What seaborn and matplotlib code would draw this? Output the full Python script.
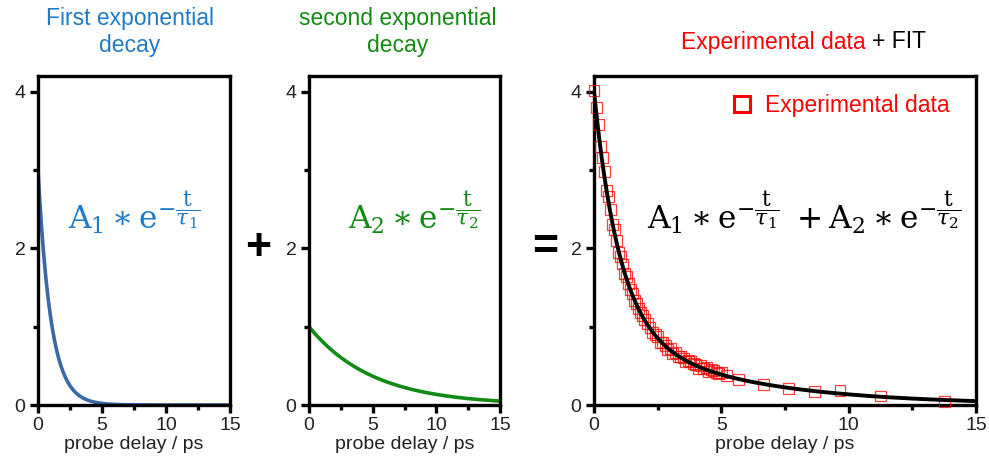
import numpy as np
import pandas as pd
import matplotlib
matplotlib.use("Agg")
import matplotlib.pyplot as plt
from matplotlib.lines import Line2D
from matplotlib.ticker import MultipleLocator
import seaborn as sns

# Bi-exponential model parameters
A1, TAU1 = 3.0, 1.0
A2, TAU2 = 1.0, 5.0

# Measured transient (probe delay in ps, signal)
t_exp = [0.00, 0.08, 0.16, 0.24, 0.32, 0.40, 0.48, 0.56, 0.64, 0.72,
         0.80, 0.88, 0.96, 1.04, 1.12, 1.20, 1.28, 1.36, 1.44, 1.52,
         1.60, 1.68, 1.76, 1.84, 1.92, 2.00, 2.10, 2.20, 2.30, 2.40,
         2.50, 2.60, 2.70, 2.80, 2.90, 3.00, 3.10, 3.20, 3.30, 3.40,
         3.50, 3.60, 3.70, 3.80, 3.90, 4.00, 4.10, 4.20, 4.30, 4.40,
         4.50, 4.60, 4.70, 4.80, 4.90, 5.00, 5.21, 5.67, 6.65, 7.64,
         8.66, 9.66, 11.24, 13.77]
y_exp = [4.02, 3.80, 3.58, 3.30, 3.16, 2.98, 2.74, 2.66, 2.49, 2.30,
         2.24, 2.10, 1.95, 1.90, 1.80, 1.68, 1.64, 1.55, 1.47, 1.42,
         1.33, 1.30, 1.23, 1.18, 1.14, 1.09, 1.04, 0.99, 0.92, 0.90,
         0.87, 0.80, 0.80, 0.76, 0.71, 0.72, 0.66, 0.67, 0.62, 0.62,
         0.60, 0.56, 0.57, 0.55, 0.53, 0.52, 0.47, 0.50, 0.46, 0.48,
         0.43, 0.45, 0.44, 0.42, 0.40, 0.41, 0.38, 0.32, 0.26, 0.21,
         0.17, 0.18, 0.115, 0.04]

x_ticks = [0, 5, 10, 15]
y_ticks = [0, 2, 4]

BLUE_LINE = "#3A68A8"
BLUE_TEXT = "#1F7BC8"
GREEN = "#138A13"
RED = "#FF0000"

sns.set_theme(style="white")
plt.rcParams["font.family"] = ["Liberation Sans", "DejaVu Sans"]
plt.rcParams["mathtext.fontset"] = "dejavuserif"

t = np.linspace(0, 15, 600)
comp1 = pd.DataFrame({"t": t, "y": A1 * np.exp(-t / TAU1)})
comp2 = pd.DataFrame({"t": t, "y": A2 * np.exp(-t / TAU2)})
fit = pd.DataFrame({"t": t, "y": comp1["y"] + comp2["y"]})
exp_df = pd.DataFrame({"t": t_exp, "y": y_exp})

W, H = 989, 470
fig = plt.figure(figsize=(W / 100, H / 100), dpi=100)
fig.patch.set_facecolor("white")


def px_axes(left, right, top=76, bottom=405):
    return fig.add_axes([left / W, 1 - bottom / H, (right - left) / W, (bottom - top) / H])


ax1 = px_axes(38, 230)
ax2 = px_axes(309, 500)
ax3 = px_axes(594, 976)

sns.lineplot(data=comp1, x="t", y="y", ax=ax1, color=BLUE_LINE, linewidth=2.6)
sns.lineplot(data=comp2, x="t", y="y", ax=ax2, color=GREEN, linewidth=2.6)
sns.scatterplot(data=exp_df, x="t", y="y", ax=ax3, marker="s", s=62,
                facecolor="none", edgecolor=RED, linewidth=0.9, alpha=0.75,
                zorder=3, clip_on=False)
sns.lineplot(data=fit, x="t", y="y", ax=ax3, color="black", linewidth=2.8, zorder=4)

for ax in (ax1, ax2, ax3):
    ax.set_xlim(0, 15)
    ax.set_ylim(0, 4.2)
    ax.set_xticks(x_ticks)
    ax.set_yticks(y_ticks)
    ax.xaxis.set_minor_locator(MultipleLocator(2.5))
    ax.yaxis.set_minor_locator(MultipleLocator(1))
    for sp in ax.spines.values():
        sp.set_visible(True)
        sp.set_color("black")
        sp.set_linewidth(2.4)
    ax.tick_params(which="major", direction="out", length=6, width=2.4,
                   labelsize=14, color="black", labelcolor="#222222", pad=3,
                   bottom=True, left=True)
    ax.tick_params(which="minor", direction="out", length=3.5, width=2.4,
                   color="black", bottom=True, left=True)
    ax.set_xlabel("probe delay / ps", fontsize=14, color="#222222", labelpad=1)
    ax.set_ylabel("")
    ax.set_facecolor("white")

# Equations
eq1 = r"$\mathrm{A}_1 \ast \mathrm{e}^{-\dfrac{\mathrm{t}}{\tau_1}}$"
eq2 = r"$\mathrm{A}_2 \ast \mathrm{e}^{-\dfrac{\mathrm{t}}{\tau_2}}$"
eq3 = (r"$\mathrm{A}_1 \ast \mathrm{e}^{-\dfrac{\mathrm{t}}{\tau_1}}"
       r"\ + \mathrm{A}_2 \ast \mathrm{e}^{-\dfrac{\mathrm{t}}{\tau_2}}$")
ax1.text(0.50, 0.535, eq1, transform=ax1.transAxes, ha="center", va="baseline",
         fontsize=22.5, color=BLUE_TEXT)
ax2.text(0.55, 0.535, eq2, transform=ax2.transAxes, ha="center", va="baseline",
         fontsize=22.5, color=GREEN)
ax3.text(0.55, 0.535, eq3, transform=ax3.transAxes, ha="center", va="baseline",
         fontsize=22.5, color="black")

# Legend for the measured points
handle = Line2D([], [], marker="s", linestyle="none", markerfacecolor="none",
                markeredgecolor=RED, markersize=11, markeredgewidth=2.2)
leg = ax3.legend([handle], ["Experimental data"], loc="upper right",
                 frameon=False, fontsize=16.5, handletextpad=0.5,
                 borderaxespad=0.6, handlelength=1.0,
                 bbox_to_anchor=(0.99, 1.015))
for txt in leg.get_texts():
    txt.set_color(RED)

# Titles
fig.text(130 / W, 1 - 32 / H, "First exponential\ndecay", ha="center", va="center",
         fontsize=16.5, color=BLUE_TEXT, linespacing=1.27)
fig.text(398 / W, 1 - 32 / H, "second exponential\ndecay", ha="center", va="center",
         fontsize=16.5, color=GREEN, linespacing=1.27)
fig.text(866 / W, 1 - 42 / H, "Experimental data", ha="right", va="center",
         fontsize=16.5, color=RED)
fig.text(872 / W, 1 - 42 / H, "+ FIT", ha="left", va="center",
         fontsize=16.5, color="black")

# Operators between panels
fig.text(258 / W, 1 - 248 / H, "+", ha="center", va="center", fontsize=32,
         fontweight="bold", color="black")
fig.text(545 / W, 1 - 248 / H, "=", ha="center", va="center", fontsize=32,
         fontweight="bold", color="black")

fig.savefig("out.png", dpi=100, facecolor="white")
